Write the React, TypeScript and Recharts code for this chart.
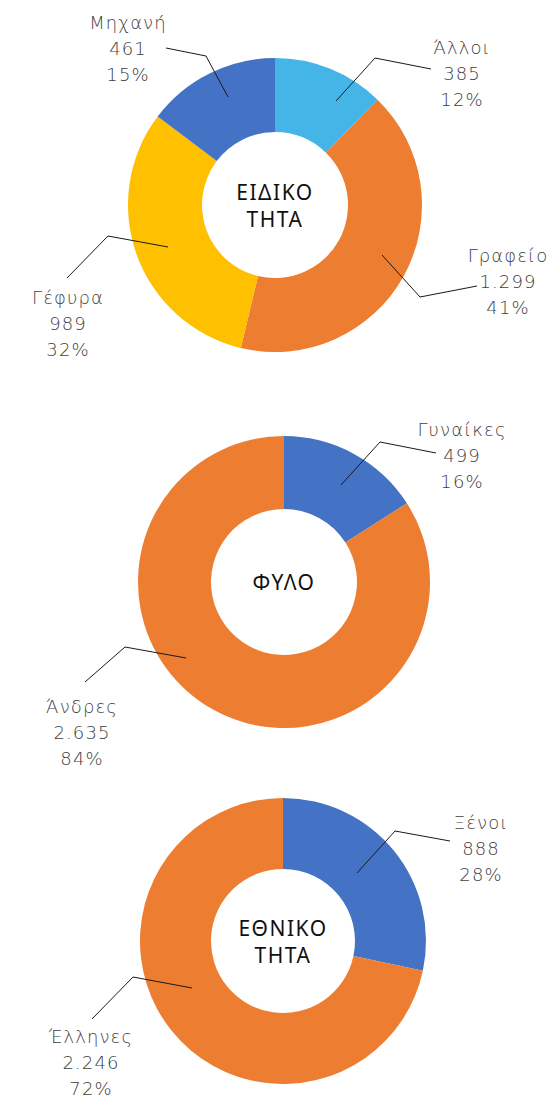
import { PieChart, Pie, Cell } from "recharts";

// ---- data ----
const specialtyNames = ["Άλλοι", "Γραφείο", "Γέφυρα", "Μηχανή"];
const specialtyValues = [385, 1299, 989, 461];
const specialtyColors = ["#45B5E7", "#ED7D31", "#FFC000", "#4472C4"];

const genderNames = ["Γυναίκες", "Άνδρες"];
const genderValues = [499, 2635];
const genderColors = ["#4472C4", "#ED7D31"];

const nationalityNames = ["Ξένοι", "Έλληνες"];
const nationalityValues = [888, 2246];
const nationalityColors = ["#4472C4", "#ED7D31"];

// label placement, offsets from each pie centre: leader start, elbow, end, text centre
type LabelPos = { s: [number, number]; e: [number, number]; l: [number, number]; t: [number, number] };

const specialtyLabels: LabelPos[] = [
  { s: [61, -104], e: [100, -147], l: [156, -136], t: [187, -132] },
  { s: [107, 50], e: [145, 92], l: [202, 81], t: [233, 76] },
  { s: [-107, 42], e: [-167, 31], l: [-208, 73], t: [-207, 118] },
  { s: [-47, -108], e: [-69, -149], l: [-109, -157], t: [-147, -157] },
];
const genderLabels: LabelPos[] = [
  { s: [57, -97], e: [96, -140], l: [152, -129], t: [178, -127] },
  { s: [-98, 76], e: [-159, 65], l: [-199, 100], t: [-202, 150] },
];
const nationalityLabels: LabelPos[] = [
  { s: [74, -68], e: [112, -110], l: [167, -100], t: [198, -93] },
  { s: [-91, 47], e: [-150, 36], l: [-191, 78], t: [-192, 121] },
];

const FONT = "'DejaVu Sans', sans-serif";
const TITLE_FONT = "'Noto Sans', sans-serif";

const fmt = (v: number) => String(v).replace(/\B(?=(\d{3})+(?!\d))/g, ".");

function makeData(names: string[], values: number[]) {
  const total = values.reduce((a, b) => a + b, 0);
  return names.map((name, i) => ({
    name,
    value: values[i],
    pct: `${Math.round((values[i] / total) * 100)}%`,
  }));
}

function makeLabel(layout: LabelPos[], title: string[]) {
  return (props: any) => {
    const { cx, cy, index, payload } = props;
    const p = layout[index];
    if (!p) return null;
    const pts = [p.s, p.e, p.l].map(([x, y]) => `${cx + x},${cy + y}`).join(" ");
    const tx = cx + p.t[0];
    const ty = cy + p.t[1];
    const lines = [payload.name, fmt(payload.value), payload.pct];
    const start = -((title.length - 1) * 27) / 2;
    return (
      <g key={`lbl-${index}`}>
        <polyline points={pts} fill="none" stroke="#1a1a1a" strokeWidth={1} />
        {lines.map((txt, k) => (
          <text
            key={k}
            x={tx}
            y={ty + (k - 1) * 26}
            textAnchor="middle"
            dominantBaseline="central"
            fontFamily={FONT}
            fontSize={18}
            fontWeight={200}
            letterSpacing={1.1}
            fill="#404040"
          >
            {txt}
          </text>
        ))}
        {index === 0 &&
          title.map((t, k) => (
            <text
              key={`c${k}`}
              x={cx}
              y={cy + start + k * 27}
              textAnchor="middle"
              dominantBaseline="central"
              fontFamily={TITLE_FONT}
              fontSize={21}
              letterSpacing={1.5}
              fill="#111"
            >
              {t}
            </text>
          ))}
      </g>
    );
  };
}

const charts = [
  {
    data: makeData(specialtyNames, specialtyValues),
    colors: specialtyColors,
    labels: specialtyLabels,
    title: ["ΕΙΔΙΚΟ", "ΤΗΤΑ"],
    cx: 275,
    cy: 205,
    outer: 147,
    inner: 73,
  },
  {
    data: makeData(genderNames, genderValues),
    colors: genderColors,
    labels: genderLabels,
    title: ["ΦΥΛΟ"],
    cx: 284,
    cy: 582,
    outer: 146,
    inner: 73,
  },
  {
    data: makeData(nationalityNames, nationalityValues),
    colors: nationalityColors,
    labels: nationalityLabels,
    title: ["ΕΘΝΙΚΟ", "ΤΗΤΑ"],
    cx: 283,
    cy: 941,
    outer: 143,
    inner: 72,
  },
];

export default function App() {
  return (
    <div style={{ width: 551, height: 1095, background: "#fff" }}>
      <style>{"body{margin:0}"}</style>
      <PieChart width={551} height={1095} margin={{ top: 0, right: 0, bottom: 0, left: 0 }}>
        {charts.map((c, ci) => (
          <Pie
            key={ci}
            data={c.data}
            dataKey="value"
            nameKey="name"
            cx={c.cx}
            cy={c.cy}
            innerRadius={c.inner}
            outerRadius={c.outer}
            startAngle={90}
            endAngle={-270}
            stroke="none"
            labelLine={false}
            label={makeLabel(c.labels, c.title)}
            isAnimationActive={false}
          >
            {c.data.map((d, i) => (
              <Cell key={d.name} fill={c.colors[i]} />
            ))}
          </Pie>
        ))}
      </PieChart>
    </div>
  );
}
